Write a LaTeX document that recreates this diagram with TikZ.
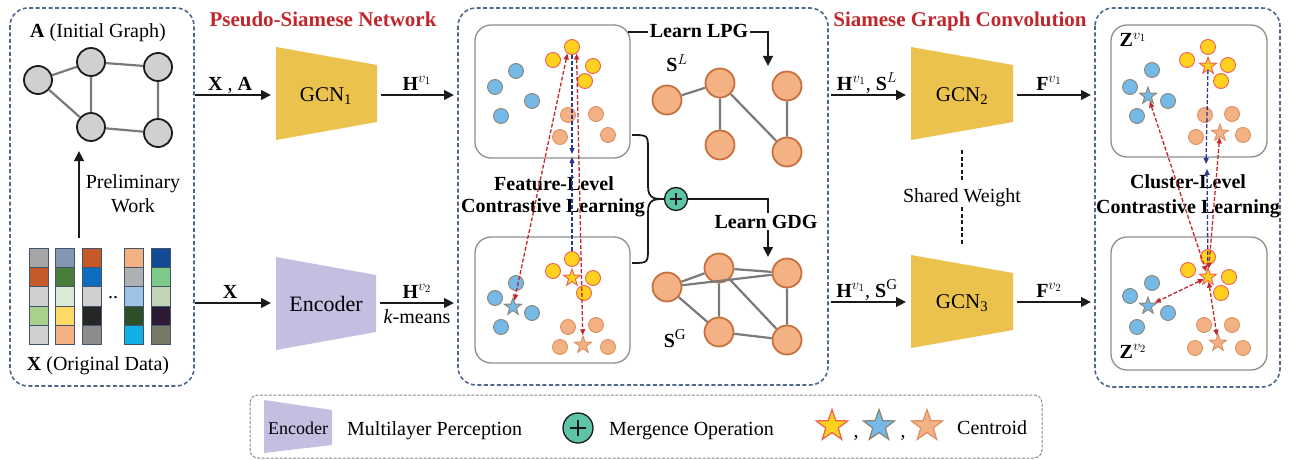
\documentclass[tikz,border=0pt]{standalone}
\usepackage{fontspec}
\setmainfont{Liberation Serif}
\DeclareMathSizes{20}{20}{15}{11}
\usetikzlibrary{arrows.meta,shapes.geometric}
\definecolor{panelblue}{HTML}{4D6889}
\definecolor{titlered}{HTML}{C1272D}
\definecolor{ink}{HTML}{1A1A1A}
\definecolor{gcnyellow}{HTML}{ECC24E}
\definecolor{enclav}{HTML}{C6BEE0}
\definecolor{boxgray}{HTML}{8E8E8E}
\definecolor{nodegray}{HTML}{D0D0D0}
\definecolor{edgegray}{HTML}{7A7A7A}
\definecolor{sorange}{HTML}{F4B183}
\definecolor{sorangeb}{HTML}{C9703F}
\definecolor{cyel}{HTML}{FFD21F}
\definecolor{cyelb}{HTML}{EE5E4E}
\definecolor{cblue}{HTML}{74B9E7}
\definecolor{cblueb}{HTML}{8D8372}
\definecolor{corg}{HTML}{F4B183}
\definecolor{corgb}{HTML}{DB9063}
\definecolor{plusgreen}{HTML}{5FC4A6}
\definecolor{dred}{HTML}{C1272D}
\definecolor{dblue}{HTML}{2B3990}
\definecolor{cellb}{HTML}{44546A}
\definecolor{legendgray}{HTML}{8A8A8A}
\newcommand\datacell[3]{\definecolor{tmpcell}{HTML}{#3}\filldraw[fill=tmpcell,draw=cellb,line width=0.8pt] (#1,{248+19.3*#2}) rectangle ++(19,19.3);}
\begin{document}
\begin{tikzpicture}[x=1pt,y=-1pt,
  panel/.style={draw=panelblue,line width=1.6pt,dash pattern=on 4pt off 2.5pt,rounded corners=18pt},
  inbox/.style={draw=boxgray,line width=1.3pt,rounded corners=16pt},
  txt/.style={font=\fontsize{20}{24}\selectfont,inner sep=0pt,anchor=base},
  btxt/.style={font=\bfseries\fontsize{20}{24}\selectfont,inner sep=0pt,anchor=base},
  ttl/.style={font=\bfseries\fontsize{21}{25}\selectfont,text=titlered,inner sep=0pt,anchor=base},
  flow/.style={draw=ink,line width=2.6pt,-{Triangle[length=10pt,width=9.5pt]}},
  gnode/.style={circle,draw=ink,fill=nodegray,line width=1.8pt,minimum size=28pt,inner sep=0pt},
  snode/.style={circle,draw=sorangeb,fill=sorange,line width=1.8pt,minimum size=29pt,inner sep=0pt},
  gedge/.style={draw=edgegray,line width=2.2pt},
  yc/.style={circle,draw=cyelb,fill=cyel,line width=0.9pt,minimum size=15pt,inner sep=0pt},
  bc/.style={circle,draw=cblueb,fill=cblue,line width=0.9pt,minimum size=15pt,inner sep=0pt},
  oc/.style={circle,draw=corgb,fill=corg,line width=0.9pt,minimum size=15pt,inner sep=0pt},
  starbase/.style={star,star points=5,star point ratio=2.5,inner sep=0pt,minimum size=#1,line width=0.9pt},
  ys/.style={starbase=18pt,draw=cyelb,fill=cyel},
  bs/.style={starbase=18pt,draw=cblueb,fill=cblue},
  os/.style={starbase=18pt,draw=corgb,fill=corg},
  rd/.style={draw=dred,line width=1.3pt,dash pattern=on 4pt off 2pt,{Triangle[length=6pt,width=5pt]}-{Triangle[length=6pt,width=5pt]}},
  bd/.style={draw=dblue,line width=1.3pt,dash pattern=on 4pt off 2pt,-{Triangle[length=6pt,width=5pt]}},
  plusnode/.style={circle,draw=ink,fill=plusgreen,line width=1.3pt,minimum size=#1,inner sep=0pt},
]
\useasboundingbox (0,0) rectangle (1291,460);
% ---------- panels ----------
\draw[panel] (10,8) rectangle (194,386);
\draw[panel] (458,8) rectangle (828,385);
\draw[panel] (1095,8) rectangle (1280,387);
% ---------- left panel ----------
\node[txt] (atitle) at (98,38) {\textbf{A} (Initial Graph)};
\node[gnode] (a1) at (38,80) {};
\node[gnode] (a2) at (91,62) {};
\node[gnode] (a3) at (158,67) {};
\node[gnode] (a4) at (91,127) {};
\node[gnode] (a5) at (158,133) {};
\draw[gedge] (a1)--(a2) (a2)--(a3) (a2)--(a4) (a1)--(a4) (a4)--(a5) (a3)--(a5);
\coordinate (pw0) at (79,238);
\coordinate (pw1) at (79,151);
\draw[flow] (pw0) -- (pw1);
\node[txt] (pre) at (133,188) {Preliminary};
\node[txt] (wrk) at (133,212) {Work};
\datacell{29}{0}{A6A6A6}\datacell{29}{1}{C55A28}\datacell{29}{2}{D0CECE}\datacell{29}{3}{A9D18E}\datacell{29}{4}{D0CECE}
\datacell{55}{0}{8497B0}\datacell{55}{1}{4A7C3A}\datacell{55}{2}{DCEBD5}\datacell{55}{3}{FFD966}\datacell{55}{4}{F4B183}
\datacell{82}{0}{C55A28}\datacell{82}{1}{0E6DBE}\datacell{82}{2}{D0CECE}\datacell{82}{3}{262626}\datacell{82}{4}{8C8C8C}
\datacell{124}{0}{F4B183}\datacell{124}{1}{AEB0B2}\datacell{124}{2}{9DC3E6}\datacell{124}{3}{2E4F25}\datacell{124}{4}{12AEE6}
\datacell{151}{0}{134A94}\datacell{151}{1}{7CCB8B}\datacell{151}{2}{C1D4B5}\datacell{151}{3}{2D1B33}\datacell{151}{4}{777B66}
\node[txt] (dots) at (113,298) {..};
\node[txt] (xtitle) at (98,370) {\textbf{X} (Original Data)};
% ---------- pseudo-siamese network ----------
\node[ttl] (pstitle) at (323,27) {Pseudo-Siamese Network};
\fill[gcnyellow] (276,47) -- (377,65) -- (377,122) -- (276,140) -- cycle;
\node[txt,font=\fontsize{21}{24}\selectfont] (gcn1) at (326,101) {GCN\textsubscript{1}};
\fill[enclav] (276,257) -- (376,275) -- (376,332) -- (276,350) -- cycle;
\node[txt,font=\fontsize{22}{24}\selectfont] (enc) at (326,311) {Encoder};
\coordinate (xa0) at (195,95); \coordinate (xa1) at (271,95);
\draw[flow] (xa0) -- (xa1);
\node[txt] (xalbl) at (230,90) {\textbf{X} , \textbf{A}};
\coordinate (h10) at (381,95); \coordinate (h11) at (454,95);
\draw[flow] (h10) -- (h11);
\node[txt] (h1lbl) at (417,90) {\textbf{H}$^{v_1}$};
\coordinate (x0) at (195,303); \coordinate (x1) at (271,303);
\draw[flow] (x0) -- (x1);
\node[txt] (xlbl) at (230,298) {\textbf{X}};
\coordinate (h20) at (380,303); \coordinate (h21) at (454,303);
\draw[flow] (h20) -- (h21);
\node[txt] (h2lbl) at (417,298) {\textbf{H}$^{v_2}$};
\node[txt] (kmlbl) at (417,323) {\textit{k}-means};
% ---------- middle panel ----------
\draw[inbox] (475,25) rectangle (630,158);
\draw[inbox] (475,237) rectangle (630,363);
% top feature box
\node[yc] (ty1) at (572,47) {};
\node[yc] (ty2) at (553,60) {};
\node[yc] (ty3) at (593,66) {};
\node[yc] (ty4) at (585,81) {};
\node[bc] (tb1) at (516,71) {};
\node[bc] (tb2) at (495,87) {};
\node[bc] (tb3) at (532,101) {};
\node[bc] (tb4) at (501,116) {};
\node[oc] (to1) at (568,115) {};
\node[oc] (to2) at (596,114) {};
\node[oc] (to3) at (560,137) {};
\node[oc] (to4) at (608,135) {};
% bottom feature box
\node[yc] (by1) at (572,259) {};
\node[yc] (by2) at (553,271) {};
\node[yc] (by3) at (593,278) {};
\node[yc] (by4) at (584,293) {};
\node[ys] (bys) at (572,278) {};
\node[bc] (bb1) at (516,283) {};
\node[bc] (bb2) at (495,298) {};
\node[bc] (bb3) at (532,313) {};
\node[bc] (bb4) at (501,327) {};
\node[bs] (bbs) at (513,307) {};
\node[oc] (bo1) at (568,327) {};
\node[oc] (bo2) at (596,325) {};
\node[oc] (bo3) at (560,347) {};
\node[oc] (bo4) at (608,347) {};
\node[os] (bos) at (583,345) {};
\node[btxt] (fl1) at (554,190) {Feature-Level};
\node[btxt] (fl2) at (553,212) {Contrastive Learning};
\coordinate (fm1) at (572,154);
\coordinate (fm2) at (572,157);
\draw[bd] (ty1) -- (fm1);
\draw[bd] (by1) -- (fm2);
\draw[rd] (ty1.235) -- (bbs);
\draw[rd] (ty1.305) -- (bos);
% learn LPG
\coordinate (lpg0) at (628,32); \coordinate (lpg1) at (768,66);
\draw[flow] (lpg0) -| (lpg1);
\node[btxt,fill=white,inner sep=2pt] (lpg) at (699,38) {Learn LPG};
\node[txt] (sl) at (677,72) {\textbf{S}$^{L}$};
\node[snode] (s1) at (667,100) {};
\node[snode] (s2) at (720,83) {};
\node[snode] (s3) at (787,86) {};
\node[snode] (s4) at (720,145) {};
\node[snode] (s5) at (787,152) {};
\draw[gedge] (s1)--(s2) (s2)--(s4) (s2)--(s5) (s3)--(s5);
% merge
\node[plusnode=23pt] (merge) at (676,199) {};
\draw[ink,line width=1.3pt] (670,199) -- (682,199) (676,193) -- (676,205);
\coordinate (br1) at (632,135);
\coordinate (br2) at (632,263);
\draw[ink,line width=1.8pt] (br1) .. controls (648,135) and (648,135) .. (648,150) -- (648,186) .. controls (648,199) and (655,199) .. (merge.west);
\draw[ink,line width=1.8pt] (br2) .. controls (648,263) and (648,263) .. (648,248) -- (648,212) .. controls (648,199) and (655,199) .. (merge.west);
\coordinate (gdg1) at (768,257);
\draw[flow] (merge.east) -| (gdg1);
\node[btxt,fill=white,inner sep=2pt] (gdg) at (766,228) {Learn GDG};
\node[txt] (sg) at (675,347) {\textbf{S}$^{\mathrm{G}}$};
\node[snode] (m1) at (667,287) {};
\node[snode] (m2) at (719,268) {};
\node[snode] (m3) at (787,273) {};
\node[snode] (m4) at (719,332) {};
\node[snode] (m5) at (787,340) {};
\draw[gedge] (m1)--(m2) (m1)--(m3) (m2)--(m3) (m1)--(m4) (m2)--(m4) (m2)--(m5) (m3)--(m5) (m4)--(m5);
% ---------- siamese graph convolution ----------
\node[ttl] (sgtitle) at (960,27) {Siamese Graph Convolution};
\fill[gcnyellow] (911,47) -- (1013,65) -- (1013,122) -- (911,140) -- cycle;
\node[txt,font=\fontsize{21}{24}\selectfont] (gcn2) at (962,101) {GCN\textsubscript{2}};
\fill[gcnyellow] (911,255) -- (1013,273) -- (1013,330) -- (911,348) -- cycle;
\node[txt,font=\fontsize{21}{24}\selectfont] (gcn3) at (962,308) {GCN\textsubscript{3}};
\coordinate (g20) at (831,95); \coordinate (g21) at (906,95);
\draw[flow] (g20) -- (g21);
\node[txt] (g2lbl) at (867,90) {\textbf{H}$^{v_1}$, \textbf{S}$^{L}$};
\coordinate (f10) at (1017,95); \coordinate (f11) at (1091,95);
\draw[flow] (f10) -- (f11);
\node[txt] (f1lbl) at (1049,90) {\textbf{F}$^{v_1}$};
\coordinate (g30) at (831,302); \coordinate (g31) at (906,302);
\draw[flow] (g30) -- (g31);
\node[txt] (g3lbl) at (867,297) {\textbf{H}$^{v_1}$, \textbf{S}$^{\mathrm{G}}$};
\coordinate (f20) at (1017,302); \coordinate (f21) at (1091,302);
\draw[flow] (f20) -- (f21);
\node[txt] (f2lbl) at (1049,297) {\textbf{F}$^{v_2}$};
\coordinate (sw0) at (962,150); \coordinate (sw1) at (962,181);
\coordinate (sw2) at (962,207); \coordinate (sw3) at (962,245);
\draw[ink,line width=2pt,dash pattern=on 4pt off 2.5pt] (sw0) -- (sw1) (sw2) -- (sw3);
\node[txt] (sw) at (962,202) {Shared Weight};
% ---------- right panel ----------
\draw[inbox] (1111,25) rectangle (1267,157);
\draw[inbox] (1111,237) rectangle (1267,370);
\node[txt] (z1) at (1133,47) {\textbf{Z}$^{v_1}$};
\node[txt] (z2) at (1133,358) {\textbf{Z}$^{v_2}$};
\node[yc] (ry1) at (1208,47) {};
\node[yc] (ry2) at (1187,60) {};
\node[yc] (ry3) at (1228,65) {};
\node[yc] (ry4) at (1221,81) {};
\node[ys] (rys1) at (1208,66) {};
\node[bc] (rb1) at (1152,70) {};
\node[bc] (rb2) at (1130,87) {};
\node[bc] (rb3) at (1168,101) {};
\node[bc] (rb4) at (1137,116) {};
\node[bs] (rbs1) at (1148,96) {};
\node[oc] (ro1) at (1205,115) {};
\node[oc] (ro2) at (1232,114) {};
\node[oc] (ro3) at (1196,137) {};
\node[oc] (ro4) at (1243,135) {};
\node[os] (ros1) at (1220,133) {};
\node[yc] (qy1) at (1208,257) {};
\node[yc] (qy2) at (1188,270) {};
\node[yc] (qy3) at (1229,277) {};
\node[yc] (qy4) at (1221,293) {};
\node[ys] (rys2) at (1208,277) {};
\node[bc] (qb1) at (1152,283) {};
\node[bc] (qb2) at (1130,296) {};
\node[bc] (qb3) at (1168,313) {};
\node[bc] (qb4) at (1137,327) {};
\node[bs] (rbs2) at (1148,306) {};
\node[oc] (qo1) at (1204,325) {};
\node[oc] (qo2) at (1232,325) {};
\node[oc] (qo3) at (1195,348) {};
\node[oc] (qo4) at (1243,348) {};
\node[os] (ros2) at (1218,343) {};
\node[btxt] (cl1) at (1188,188) {Cluster-Level};
\node[btxt] (cl2) at (1188,213) {Contrastive Learning};
\coordinate (cm1) at (1206,164);
\coordinate (cm2) at (1207,169);
\draw[bd] (rys1) -- (cm1);
\draw[bd] (rys2) -- (cm2);
\draw[rd] (rbs1) -- (rys2);
\draw[rd] (ros1) -- (rys2);
\draw[rd] (rys2) -- (rbs2);
\draw[rd] (rys2) -- (ros2);
% ---------- legend ----------
\draw[draw=legendgray,line width=1pt,dash pattern=on 3pt off 1.5pt,rounded corners=8pt] (250,395) rectangle (1042,458);
\fill[enclav] (264,400) -- (332,410) -- (332,445) -- (264,453) -- cycle;
\node[txt,font=\fontsize{18}{20}\selectfont] (lenc) at (298,434) {Encoder};
\node[txt,anchor=base west] (lmlp) at (347,435) {Multilayer Perception};
\node[plusnode=30pt] (lplus) at (578,428) {};
\draw[ink,line width=1.3pt] (570,428) -- (586,428) (578,420) -- (578,436);
\node[txt,anchor=base west] (lmerge) at (609,435) {Mergence Operation};
\node[starbase=33pt,draw=cyelb,fill=cyel,line width=1.2pt] (lys) at (832,426) {};
\node[txt] (lc1) at (856,437) {,};
\node[starbase=33pt,draw=cblueb,fill=cblue,line width=1.2pt] (lbs) at (879,426) {};
\node[txt] (lc2) at (903,437) {,};
\node[starbase=33pt,draw=corgb,fill=corg,line width=1.2pt] (los) at (927,426) {};
\node[txt,anchor=base west] (lcen) at (957,434) {Centroid};
\end{tikzpicture}
\end{document}
